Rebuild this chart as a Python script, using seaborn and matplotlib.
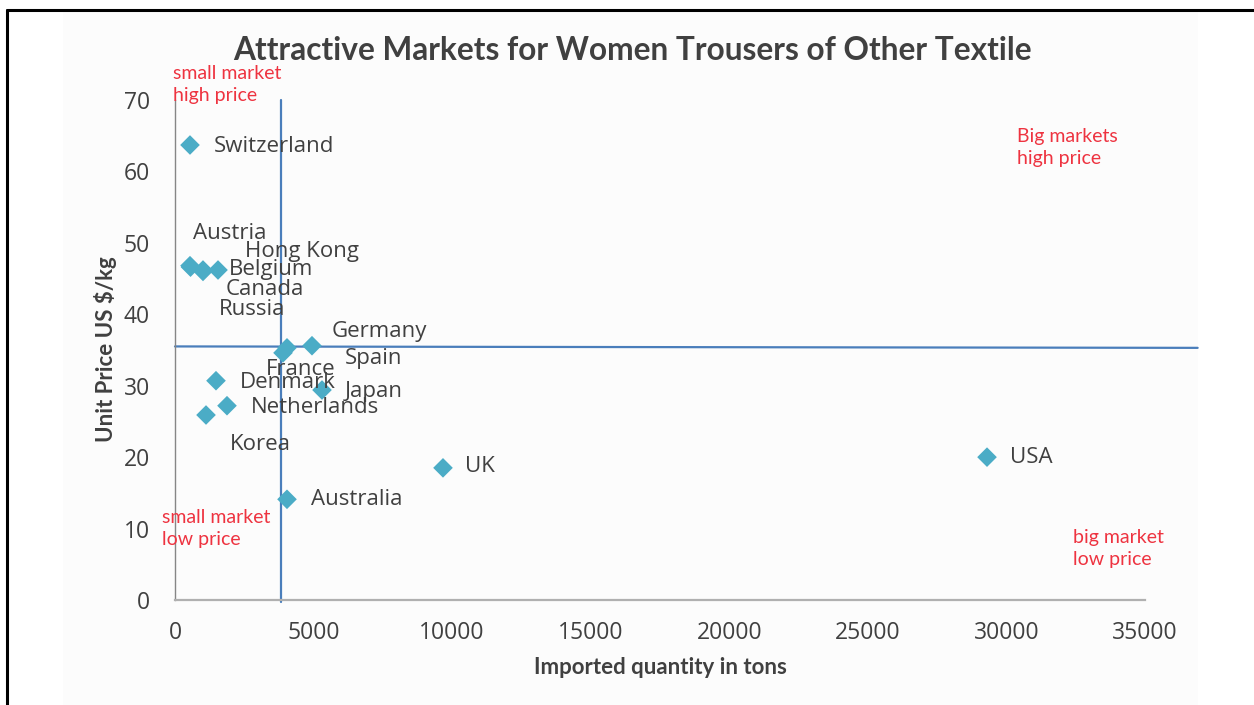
import matplotlib
matplotlib.use("Agg")
import matplotlib.pyplot as plt
from matplotlib.lines import Line2D
from matplotlib.patches import Rectangle
import seaborn as sns
import pandas as pd

# ---- data ----
countries = ["Switzerland", "Austria", "Hong Kong", "Belgium", "Canada", "Russia",
             "Germany", "Spain", "France", "Japan", "Denmark", "Netherlands",
             "Korea", "UK", "Australia", "USA"]
quantity = [541, 541, 1010, 1552, 1010, 560,
            4943, 4041, 3897, 5304, 1479, 1876,
            1119, 9670, 4041, 29300]
price = [63.7, 46.8, 46.2, 46.2, 46.0, 46.6,
         35.6, 35.3, 34.6, 29.4, 30.7, 27.2,
         25.9, 18.5, 14.1, 20.0]

# quadrant divider lines
vline_x = [3825, 3825]
vline_y = [-0.3, 70]
hline_x = [0, 36900]
hline_y = [35.5, 35.3]

x_ticks = [0, 5000, 10000, 15000, 20000, 25000, 30000, 35000]
y_ticks = [0, 10, 20, 30, 40, 50, 60, 70]

quadrant_texts = ["small market\nhigh price", "Big markets\nhigh price",
                  "small market\nlow price", "big market\nlow price"]
quadrant_pos = [(-72, 72.17), (30382, 63.35), (-469, 10.01), (32403, 7.21)]

# label offsets in pixels (dx right, dy down) relative to the marker centre
label_offsets = {
    "Switzerland": (24, 1), "Austria": (3, -32), "Hong Kong": (42, -19),
    "Belgium": (11, 0), "Canada": (23, 18), "Russia": (28, 42),
    "Germany": (20, -14), "Spain": (58, 11), "France": (-17, 17),
    "Japan": (23, 1), "Denmark": (24, 2), "Netherlands": (24, 2),
    "Korea": (24, 30), "UK": (22, -1), "Australia": (24, 0), "USA": (23, 0),
}

df = pd.DataFrame({"country": countries, "quantity": quantity, "price": price})

sns.set_theme(style="white")
plt.rcParams["font.family"] = ["Open Sans", "DejaVu Sans"]

W, H = 1254, 705
fig = plt.figure(figsize=(W / 100, H / 100), dpi=100)
fig.patch.set_facecolor("white")

# faint chart panel and frame
fig.add_artist(Rectangle((63 / W, 0), (1198 - 63) / W, 1 - 12 / H,
                         transform=fig.transFigure, facecolor="#fcfcfc",
                         edgecolor="none", zorder=0))
fig.add_artist(Line2D([6.5 / W, 6.5 / W], [0, 1 - 10 / H], transform=fig.transFigure,
                      color="black", lw=2.2))
fig.add_artist(Line2D([6.5 / W, 1], [1 - 10 / H, 1 - 10 / H], transform=fig.transFigure,
                      color="black", lw=2.2))

ax = fig.add_axes([175 / W, 1 - 600 / H, (1198 - 175) / W, 500 / H])
ax.set_facecolor("none")

ax.plot(vline_x, vline_y, color="#4a7ebb", lw=1.6, zorder=2, clip_on=False)
ax.plot(hline_x, hline_y, color="#4a7ebb", lw=1.6, zorder=2, clip_on=False)

sns.scatterplot(data=df, x="quantity", y="price", marker="D", s=100,
                color="#4bacc6", edgecolor="none", linewidth=0, ax=ax, zorder=3,
                legend=False)

for c, xv, yv in zip(countries, quantity, price):
    dx, dy = label_offsets[c]
    ax.annotate(c, (xv, yv), xytext=(dx * 0.72, -dy * 0.72), textcoords="offset points",
                ha="left", va="center", fontsize=16, color="#404040",
                family="Open Sans", zorder=4, annotation_clip=False)

ax.set_xlim(0, 36913)
ax.set_ylim(0, 70)
ax.set_xticks(x_ticks)
ax.set_yticks(y_ticks)
ax.set_xticklabels([str(v) for v in x_ticks])
ax.set_yticklabels([str(v) for v in y_ticks])
ax.tick_params(axis="both", length=0, labelsize=16.5, labelcolor="#404040")
ax.tick_params(axis="x", pad=15)
ax.tick_params(axis="y", pad=18)
ax.set_xlabel("")
ax.set_ylabel("")

for s in ["top", "right"]:
    ax.spines[s].set_visible(False)
ax.spines["left"].set_color("#868686")
ax.spines["left"].set_linewidth(1.0)
ax.spines["bottom"].set_color("#b0b0b0")
ax.spines["bottom"].set_linewidth(1.6)
ax.spines["bottom"].set_bounds(0, 35000)
ax.grid(False)

for t, (qx, qy) in zip(quadrant_texts, quadrant_pos):
    ax.text(qx, qy, t, ha="left", va="center", fontsize=14, color="#ee3340",
            family="Lato", linespacing=1.35, clip_on=False)

fig.text(632 / W, 1 - 51 / H, "Attractive Markets for Women Trousers of Other Textile",
         ha="center", va="center", fontsize=22.8, fontweight="bold", color="#404040",
         family="Lato")
fig.text(660 / W, 1 - 667 / H, "Imported quantity in tons", ha="center", va="center",
         fontsize=16, fontweight="bold", color="#404040", family="Lato")
fig.text(105 / W, 1 - 349 / H, "Unit Price US $/kg", ha="center", va="center",
         rotation=90, fontsize=16, fontweight="bold", color="#404040", family="Lato")

fig.savefig("out.png", dpi=100)
